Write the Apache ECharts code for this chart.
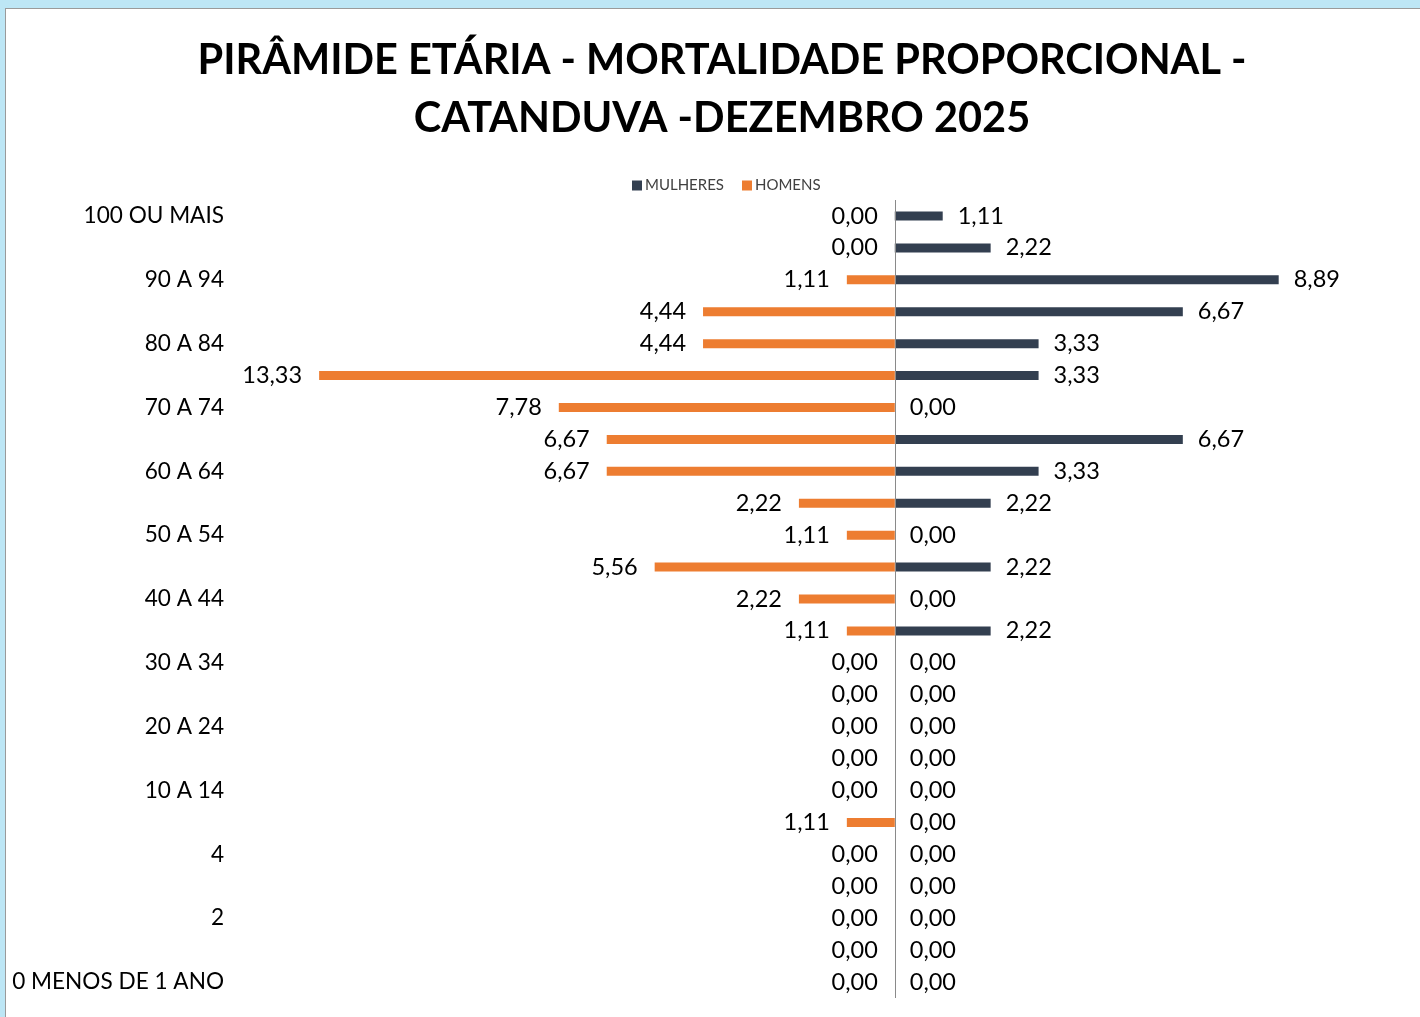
<!DOCTYPE html>
<html>
<head>
<meta charset="utf-8">
<script src="https://cdn.jsdelivr.net/npm/echarts@6/dist/echarts.min.js"></script>
<style>
  html, body { margin: 0; padding: 0; background: #bde6f5; }
  .frame {
    position: absolute; left: 5px; top: 8px; width: 1415px; height: 1009px;
    border-left: 1px solid #9a9a9a; border-top: 1px solid #9a9a9a;
    background: #fff;
  }
  #chart { width: 1414px; height: 1008px; }
</style>
</head>
<body>
<div class="frame"><div id="chart"></div></div>
<script>
// faixas etárias, de baixo para cima
const categories = [
  "0 MENOS DE 1 ANO", "1", "2", "3", "4", "5 A 9", "10 A 14", "15 A 19",
  "20 A 24", "25 A 29", "30 A 34", "35 A 39", "40 A 44", "45 A 49",
  "50 A 54", "55 A 59", "60 A 64", "65 A 69", "70 A 74", "75 A 79",
  "80 A 84", "85 A 89", "90 A 94", "95 A 99", "100 OU MAIS"
];
// mortalidade proporcional (%)
const mulheres = [0, 0, 0, 0, 0, 0, 0, 0, 0, 0, 0, 2.22, 0, 2.22, 0, 2.22,
  3.33, 6.67, 0, 3.33, 3.33, 6.67, 8.89, 2.22, 1.11];
const homens = [0, 0, 0, 0, 0, 1.11, 0, 0, 0, 0, 0, 1.11, 2.22, 5.56, 1.11,
  2.22, 6.67, 6.67, 7.78, 13.33, 4.44, 4.44, 1.11, 0, 0];

const fmt = (p) => Math.abs(p.value).toFixed(2).replace(".", ",");
const font = "Lato, 'Noto Sans', sans-serif";

let myChart = echarts.init(document.getElementById("chart"));
let option = {
  animation: false,
  textStyle: { fontFamily: font },
  title: {
    text: "PIRÂMIDE ETÁRIA - MORTALIDADE PROPORCIONAL -\nCATANDUVA -DEZEMBRO 2025",
    left: 711,
    textAlign: "center",
    top: 18,
    textStyle: {
      fontFamily: font,
      fontSize: 41.5,
      fontWeight: "bold",
      color: "#000",
      lineHeight: 58,
    },
  },
  legend: {
    left: 621,
    top: 164,
    itemWidth: 10,
    itemHeight: 10,
    itemGap: 18,
    icon: "rect",
    textStyle: { fontSize: 15, color: "#404040", padding: [0, 0, 0, -2] },
    data: ["MULHERES", "HOMENS"],
  },
  grid: { left: 241, top: 191, width: 1166, height: 798 },
  xAxis: {
    type: "value",
    min: -15,
    max: 12,
    show: false,
  },
  yAxis: {
    type: "category",
    data: categories,
    axisLine: { show: false },
    axisTick: { show: false },
    axisLabel: {
      interval: 1,
      margin: 23,
      fontSize: 22.6,
      color: "#000",
    },
  },
  series: [
    {
      name: "MULHERES",
      type: "bar",
      data: mulheres,
      barWidth: 9,
      barGap: "-100%",
      itemStyle: { color: "#333f50" },
      label: {
        show: true,
        position: "right",
        distance: 15,
        formatter: fmt,
        fontSize: 23.5,
        color: "#000",
      },
      markLine: {
        silent: true,
        symbol: "none",
        label: { show: false },
        lineStyle: { color: "#8a8a8a", width: 1, type: "solid" },
        data: [{ xAxis: 0 }],
      },
    },
    {
      name: "HOMENS",
      type: "bar",
      data: homens.map((v) => -v),
      barWidth: 9,
      barGap: "-100%",
      itemStyle: { color: "#ed7d31" },
      label: {
        show: true,
        position: "left",
        distance: 17,
        formatter: fmt,
        fontSize: 23.5,
        color: "#000",
      },
    },
  ],
};
myChart.setOption(option);
</script>
</body>
</html>
